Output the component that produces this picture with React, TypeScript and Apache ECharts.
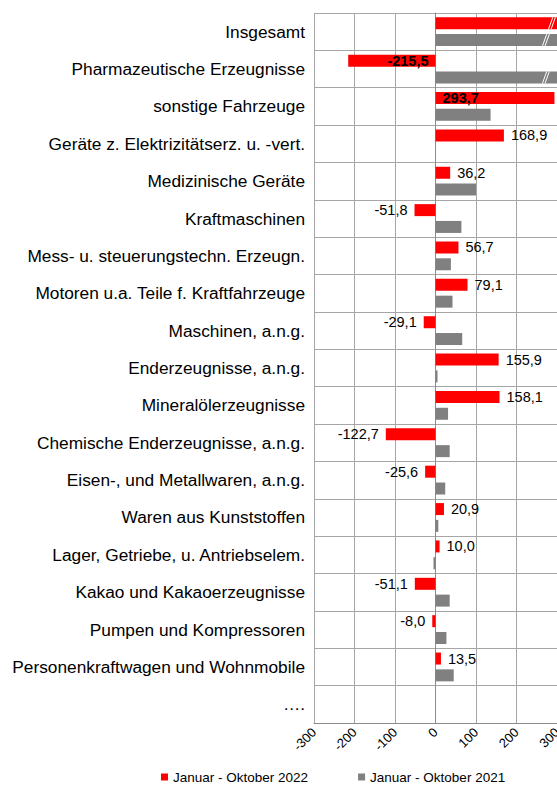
import React, { useEffect, useRef } from "react";
import * as echarts from "echarts";

const categories = [
  "Insgesamt",
  "Pharmazeutische Erzeugnisse",
  "sonstige Fahrzeuge",
  "Geräte z. Elektrizitätserz. u. -vert.",
  "Medizinische Geräte",
  "Kraftmaschinen",
  "Mess- u. steuerungstechn. Erzeugn.",
  "Motoren u.a. Teile f. Kraftfahrzeuge",
  "Maschinen, a.n.g.",
  "Enderzeugnisse, a.n.g.",
  "Mineralölerzeugnisse",
  "Chemische Enderzeugnisse, a.n.g.",
  "Eisen-, und Metallwaren, a.n.g.",
  "Waren aus Kunststoffen",
  "Lager, Getriebe, u. Antriebselem.",
  "Kakao und Kakaoerzeugnisse",
  "Pumpen und Kompressoren",
  "Personenkraftwagen und Wohnmobile",
  "….",
];

// Values beyond the axis end (Insgesamt, Pharma 2021) are cut off in the reference; estimated.
const values2022 = [420, -215.5, 293.7, 168.9, 36.2, -51.8, 56.7, 79.1, -29.1, 155.9, 158.1, -122.7, -25.6, 20.9, 10.0, -51.1, -8.0, 13.5, null];
const values2021 = [450, 500, 136, null, 100, 64, 38, 42, 66, 5, 31, 35, 24, 7, -5, 35, 27, 45, null];

const seriesNames = ["Januar - Oktober 2022", "Januar - Oktober 2021"];
const xTicks = [-300, -200, -100, 0, 100, 200, 300];

const FONT = "Liberation Sans, Arial, Helvetica, sans-serif";
const RED = "#ff0000";
const GREY = "#808080";
const AXIS_MIN = xTicks[0];
const AXIS_MAX = xTicks[xTicks.length - 1];
const BAR_W = 12;
const BAR_GAP = 0.4;

const fmt = (v: number) => v.toFixed(1).replace(".", ",");

export default function App() {
  const ref = useRef<HTMLDivElement>(null);

  useEffect(() => {
    if (!ref.current) return;
    const chart = echarts.init(ref.current, undefined, { renderer: "svg" });

    const redData = values2022.map((v) => {
      if (v === null) return { value: null };
      let label: any;
      if (v > AXIS_MAX || v < AXIS_MIN) {
        label = { show: false };
      } else if (Math.abs(v) > 200) {
        label = {
          show: true,
          position: v < 0 ? "insideRight" : "insideLeft",
          fontWeight: "bold",
          distance: 7,
        };
      } else {
        label = { show: true, position: v < 0 ? "left" : "right", distance: 7 };
      }
      return { value: v, label };
    });

    const option: any = {
      animation: false,
      textStyle: { fontFamily: FONT },
      grid: {
        left: 314,
        top: 13,
        right: 0,
        bottom: 64,
        containLabel: false,
        outerBoundsMode: "none",
      },
      xAxis: {
        type: "value",
        min: AXIS_MIN,
        max: AXIS_MAX,
        interval: 100,
        axisLine: { show: true, lineStyle: { color: "#8c8c8c", width: 1 } },
        axisTick: { show: false },
        splitLine: { show: true, lineStyle: { color: "#a6a6a6", width: 1 } },
        axisLabel: {
          rotate: 45,
          fontSize: 13,
          color: "#000",
          margin: 7,
          fontFamily: FONT,
          formatter: (v: number) => String(v),
        },
      },
      yAxis: {
        type: "category",
        data: categories,
        inverse: true,
        axisLine: { show: true, lineStyle: { color: "#8c8c8c", width: 1 } },
        axisTick: { show: false },
        splitLine: { show: true, lineStyle: { color: "#a6a6a6", width: 1 } },
        axisLabel: { fontSize: 17.3, color: "#000", margin: 9, fontFamily: FONT },
      },
      legend: {
        data: seriesNames,
        left: 161,
        top: 770,
        padding: 0,
        icon: "rect",
        itemWidth: 7,
        itemHeight: 7,
        itemGap: 50,
        textStyle: { fontSize: 13.5, color: "#000", fontFamily: FONT },
      },
      series: [
        {
          name: seriesNames[0],
          type: "bar",
          data: redData,
          barWidth: BAR_W,
          barGap: BAR_GAP * 100 + "%",
          itemStyle: { color: RED },
          clip: true,
          label: { color: "#000", fontSize: 14.5, fontFamily: FONT, formatter: (p: any) => fmt(p.value) },
          z: 3,
        },
        {
          name: seriesNames[1],
          type: "bar",
          data: values2021,
          barWidth: BAR_W,
          barGap: BAR_GAP * 100 + "%",
          itemStyle: { color: GREY },
          clip: true,
          z: 3,
        },
      ],
    };
    chart.setOption(option);

    // Break marks on bars that run past the axis end
    const graphics: any[] = [];
    const half = (BAR_W + BAR_W * BAR_GAP) / 2;
    const slope = 0.36;
    const breakVal = 280;
    [values2022, values2021].forEach((vals, si) => {
      vals.forEach((v, i) => {
        if (v === null || v <= AXIS_MAX) return;
        const p = chart.convertToPixel({ gridIndex: 0 }, [breakVal, categories[i]]) as number[];
        const xc = p[0];
        const yc = p[1];
        const center = yc + (si === 0 ? -half : half);
        const y0 = center - BAR_W / 2;
        const y1 = center + BAR_W / 2;
        [-1.3, 1.3].forEach((dx) => {
          graphics.push({
            type: "line",
            z: 10,
            shape: {
              x1: xc + dx + (yc - y1) * slope,
              y1: y1,
              x2: xc + dx + (yc - y0) * slope,
              y2: y0,
            },
            style: { stroke: "#ffffff", lineWidth: 1 },
          });
        });
      });
    });
    chart.setOption({ graphic: graphics });

    return () => chart.dispose();
  }, []);

  return (
    <div
      ref={ref}
      style={{ position: "absolute", left: 0, top: 0, width: 557, height: 787, background: "#fff" }}
    />
  );
}
